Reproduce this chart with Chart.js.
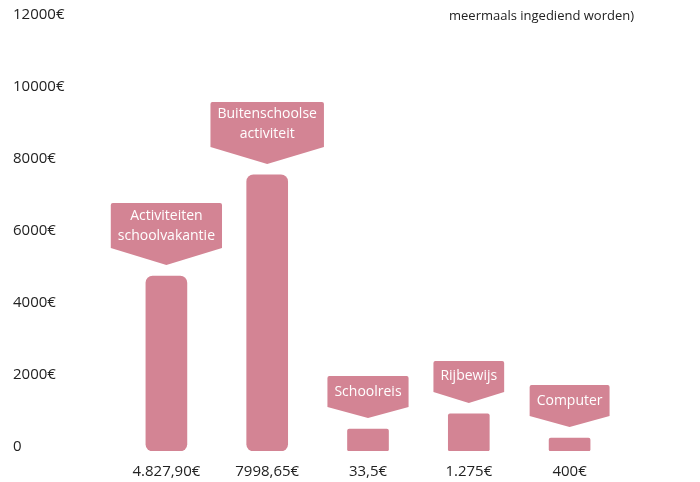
<!DOCTYPE html>
<html>
<head>
<meta charset="utf-8">
<script src="https://cdn.jsdelivr.net/npm/chart.js@4/dist/chart.umd.min.js"></script>
<style>
  html, body { margin: 0; padding: 0; background: #fff; }
  #wrap { width: 700px; height: 482px; position: relative; }
</style>
</head>
<body>
<div id="wrap"><canvas id="chartCanvas"></canvas></div>
<script>
// values as drawn (bar heights)
const valueLabels = ['4.827,90€', '7998,65€', '33,5€', '1.275€', '400€'];
const callouts = [['Activiteiten', 'schoolvakantie'], ['Buitenschoolse', 'activiteit'], ['Schoolreis'], ['Rijbewijs'], ['Computer']];
const barValues = [4860, 7670, 610, 1030, 360];
const yTicks = [0, 2000, 4000, 6000, 8000, 10000, 12000];
const yTickLabels = ['0', '2000€', '4000€', '6000€', '8000€', '10000€', '12000€'];
const noteText = 'meermaals ingediend worden)';

const PINK = '#d38494';
const FONT = '"Open Sans", Lato, sans-serif';

// draws the arrow-shaped labels above each bar
const calloutPlugin = {
  id: 'callouts',
  afterDatasetsDraw(chart) {
    const ctx = chart.ctx;
    const meta = chart.getDatasetMeta(0);
    ctx.save();
    ctx.font = '14px ' + FONT;
    meta.data.forEach((bar, i) => {
      const lines = callouts[i];
      const two = lines.length > 1;
      const textW = Math.max(...lines.map(l => ctx.measureText(l).width));
      const w = textW + 14;
      const rectH = two ? 45 : 31;
      const arrow = two ? 17 : 11;
      const tipY = bar.y - 11;
      const bottom = tipY - arrow;
      const top = bottom - rectH;
      const left = bar.x - w / 2, right = bar.x + w / 2;
      ctx.fillStyle = PINK;
      ctx.beginPath();
      ctx.moveTo(left + 2, top);
      ctx.lineTo(right - 2, top);
      ctx.quadraticCurveTo(right, top, right, top + 2);
      ctx.lineTo(right, bottom);
      ctx.lineTo(bar.x, tipY);
      ctx.lineTo(left, bottom);
      ctx.lineTo(left, top + 2);
      ctx.quadraticCurveTo(left, top, left + 2, top);
      ctx.closePath();
      ctx.fill();
      ctx.fillStyle = '#fff';
      ctx.textAlign = 'center';
      ctx.textBaseline = 'middle';
      const mid = top + rectH / 2;
      if (two) {
        ctx.fillText(lines[0], bar.x, mid - 10);
        ctx.fillText(lines[1], bar.x, mid + 10);
      } else {
        ctx.fillText(lines[0], bar.x, mid);
      }
    });
    ctx.restore();
  },
  afterDraw(chart) {
    const ctx = chart.ctx;
    ctx.save();
    ctx.font = '13px ' + FONT;
    ctx.fillStyle = '#222';
    ctx.textAlign = 'left';
    ctx.textBaseline = 'middle';
    ctx.fillText(noteText, 449, 16);
    ctx.restore();
  }
};

new Chart(document.getElementById('chartCanvas').getContext('2d'), {
  type: 'bar',
  data: {
    labels: valueLabels,
    datasets: [{
      data: barValues,
      backgroundColor: PINK,
      borderRadius: c => (c.dataIndex < 2 ? 7 : 2),
      borderSkipped: false,
      barThickness: 41
    }]
  },
  options: {
    responsive: true,
    maintainAspectRatio: false,
    animation: false,
    layout: { padding: { left: 13, right: 80, top: 19, bottom: 0 } },
    plugins: {
      legend: { display: false },
      tooltip: { enabled: false }
    },
    scales: {
      x: {
        grid: { display: false, drawTicks: false },
        border: { display: false },
        ticks: { color: '#222', font: { family: FONT, size: 15 }, padding: 12, maxRotation: 0 },
        afterFit: s => { s.height = 31; }
      },
      y: {
        min: 0,
        max: 12000,
        afterBuildTicks: s => { s.ticks = yTicks.map(v => ({ value: v })); },
        afterFit: s => { s.width = 103; },
        grid: { display: false, drawTicks: false },
        border: { display: false },
        ticks: {
          color: '#222',
          font: { family: FONT, size: 15 },
          crossAlign: 'far',
          labelOffset: -4,
          callback: (v, i) => yTickLabels[i]
        }
      }
    }
  },
  plugins: [calloutPlugin]
});
</script>
</body>
</html>
